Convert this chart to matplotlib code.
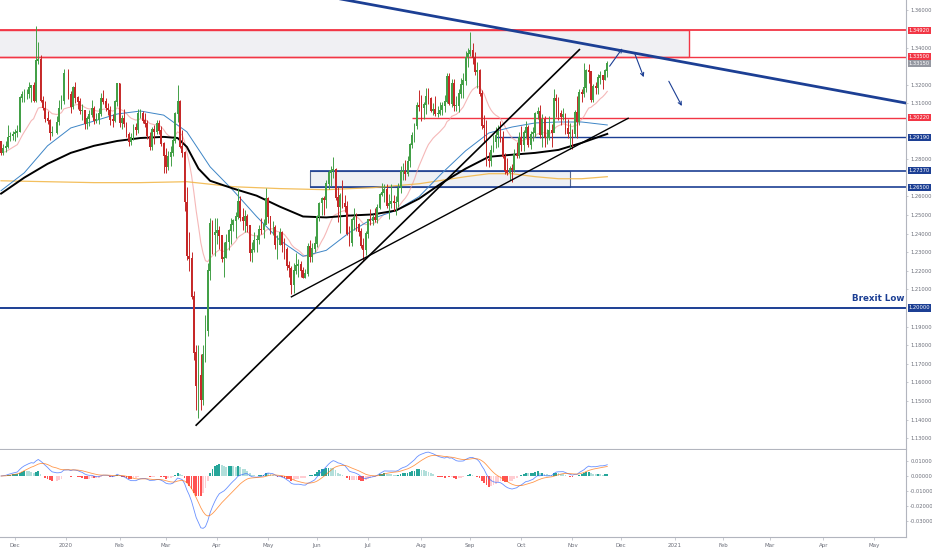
import numpy as np
import pandas as pd
import matplotlib
matplotlib.use('Agg')
import matplotlib.pyplot as plt
import matplotlib.transforms as mtransforms
from matplotlib.patches import Rectangle

START = '2019-11-22'      # first daily bar on screen
FIRST_OPEN = 1.2895

# GBP/USD daily closes, 22 Nov 2019 .. 23 Nov 2020 (no bar on 25 Dec / 1 Jan)
closes = [
    1.2835, 1.2860, 1.2870, 1.2920, 1.2925, 1.2935,                                   # Nov
    1.2945, 1.2950, 1.3130, 1.3150, 1.3150, 1.3150, 1.3185, 1.3195, 1.3115, 1.3330,
    1.3335, 1.3115, 1.3075, 1.3020, 1.3010, 1.2945, 1.2945, 1.3000, 1.3075, 1.3115, 1.3260,  # Dec
    1.3150, 1.3080, 1.3185, 1.3130, 1.3110, 1.3060, 1.3065, 1.2990, 1.3020, 1.3040, 1.3075,
    1.3005, 1.3015, 1.3045, 1.3125, 1.3110, 1.3075, 1.3065, 1.3015, 1.3005, 1.3110, 1.3205,  # Jan
    1.2995, 1.3020, 1.2990, 1.2935, 1.2895, 1.2915, 1.2970, 1.2960, 1.3045, 1.3045,
    1.3010, 1.2990, 1.2925, 1.2870, 1.2960, 1.2950, 1.2990, 1.2955, 1.2885, 1.2820,  # Feb
    1.2760, 1.2815, 1.2835, 1.2900, 1.3045, 1.3110, 1.2870, 1.2835, 1.2570, 1.2280, 1.2265,
    1.2060, 1.1760, 1.1580, 1.1640, 1.1510, 1.1750, 1.1880, 1.2200, 1.2455, 1.2395, 1.2405,  # Mar
    1.2415, 1.2390, 1.2265, 1.2270, 1.2355, 1.2415, 1.2450, 1.2470, 1.2490, 1.2575, 1.2485,
    1.2470, 1.2495, 1.2445, 1.2300, 1.2315, 1.2365, 1.2370, 1.2425, 1.2420, 1.2450, 1.2590,  # Apr
    1.2490, 1.2435, 1.2435, 1.2340, 1.2340, 1.2405, 1.2340, 1.2315, 1.2230, 1.2215, 1.2125,
    1.2200, 1.2230, 1.2235, 1.2200, 1.2165, 1.2185, 1.2330, 1.2275, 1.2320, 1.2345,  # May
    1.2490, 1.2565, 1.2590, 1.2580, 1.2670, 1.2730, 1.2740, 1.2745, 1.2595, 1.2545, 1.2605,
    1.2565, 1.2545, 1.2400, 1.2350, 1.2475, 1.2485, 1.2450, 1.2410, 1.2335, 1.2315, 1.2400,  # Jun
    1.2475, 1.2470, 1.2485, 1.2475, 1.2540, 1.2610, 1.2620, 1.2640, 1.2550, 1.2560, 1.2575, 1.2565,
    1.2570, 1.2645, 1.2735, 1.2735, 1.2725, 1.2790, 1.2880, 1.2930, 1.2980, 1.3090, 1.3085,  # Jul
    1.3075, 1.3095, 1.3140, 1.3125, 1.3060, 1.3070, 1.3045, 1.3045, 1.3065, 1.3090, 1.3110,
    1.3245, 1.3100, 1.3210, 1.3090, 1.3090, 1.3155, 1.3200, 1.3225, 1.3350, 1.3370,  # Aug
    1.3385, 1.3345, 1.3270, 1.3280, 1.3155, 1.2980, 1.2970, 1.2800, 1.2795, 1.2850, 1.2895,
    1.2930, 1.2960, 1.2915, 1.2815, 1.2740, 1.2730, 1.2750, 1.2745, 1.2825, 1.2820, 1.2920,  # Sep
    1.2880, 1.2945, 1.2970, 1.2880, 1.2935, 1.2945, 1.3045, 1.3055, 1.2930, 1.3015, 1.2915,
    1.2915, 1.2955, 1.2945, 1.3125, 1.3115, 1.3045, 1.3030, 1.3040, 1.2965, 1.2935, 1.2945,  # Oct
    1.2935, 1.3050, 1.3000, 1.3160, 1.3150, 1.3185, 1.3275, 1.3270, 1.3120, 1.3190,
    1.3185, 1.3240, 1.3250, 1.3230, 1.3275, 1.3315,  # Nov
]
highs = [
    1.2900, 1.2880, 1.2900, 1.2985, 1.2945, 1.2950,
    1.2960, 1.2985, 1.3140, 1.3165, 1.3180, 1.3180, 1.3215, 1.3200, 1.3215, 1.3515,
    1.3430, 1.3360, 1.3140, 1.3115, 1.3060, 1.3015, 1.2980, 1.3030, 1.3120, 1.3145, 1.3285,
    1.3285, 1.3165, 1.3195, 1.3215, 1.3140, 1.3130, 1.3095, 1.3065, 1.3030, 1.3065, 1.3120,
    1.3085, 1.3050, 1.3075, 1.3155, 1.3170, 1.3130, 1.3100, 1.3085, 1.3045, 1.3120, 1.3210,
    1.3210, 1.3040, 1.3070, 1.3000, 1.2945, 1.2940, 1.2990, 1.2995, 1.3070, 1.3070,
    1.3060, 1.3050, 1.3010, 1.2945, 1.2975, 1.2985, 1.3010, 1.3010, 1.2980, 1.2895,
    1.2860, 1.2845, 1.2870, 1.2915, 1.3055, 1.3200, 1.3120, 1.2955, 1.2845, 1.2650, 1.2410,
    1.2300, 1.2090, 1.1800, 1.1800, 1.1750, 1.1800, 1.1960, 1.2240, 1.2485, 1.2475, 1.2485,
    1.2485, 1.2440, 1.2395, 1.2355, 1.2400, 1.2425, 1.2485, 1.2480, 1.2515, 1.2645, 1.2600,
    1.2540, 1.2525, 1.2505, 1.2445, 1.2355, 1.2410, 1.2395, 1.2445, 1.2485, 1.2480, 1.2645,
    1.2595, 1.2495, 1.2470, 1.2445, 1.2390, 1.2430, 1.2415, 1.2375, 1.2330, 1.2250, 1.2225,
    1.2240, 1.2295, 1.2265, 1.2250, 1.2220, 1.2210, 1.2350, 1.2365, 1.2350, 1.2385,
    1.2500, 1.2570, 1.2595, 1.2600, 1.2690, 1.2740, 1.2765, 1.2810, 1.2750, 1.2650, 1.2620,
    1.2690, 1.2610, 1.2575, 1.2440, 1.2485, 1.2540, 1.2510, 1.2455, 1.2430, 1.2375, 1.2415,
    1.2480, 1.2530, 1.2505, 1.2535, 1.2560, 1.2620, 1.2670, 1.2665, 1.2665, 1.2615, 1.2665, 1.2605,
    1.2600, 1.2670, 1.2765, 1.2780, 1.2795, 1.2815, 1.2885, 1.2945, 1.2995, 1.3105, 1.3170,
    1.3145, 1.3110, 1.3185, 1.3185, 1.3135, 1.3100, 1.3140, 1.3085, 1.3110, 1.3110, 1.3145,
    1.3265, 1.3265, 1.3230, 1.3230, 1.3140, 1.3175, 1.3235, 1.3265, 1.3380, 1.3400,
    1.3482, 1.3425, 1.3375, 1.3320, 1.3285, 1.3170, 1.3035, 1.3010, 1.2840, 1.2875, 1.2930,
    1.2975, 1.2985, 1.3005, 1.2950, 1.2835, 1.2805, 1.2765, 1.2775, 1.2855, 1.2890, 1.2945,
    1.2980, 1.2955, 1.3005, 1.2985, 1.2950, 1.2975, 1.3055, 1.3080, 1.3090, 1.3045, 1.3030,
    1.2960, 1.3030, 1.2990, 1.3175, 1.3150, 1.3135, 1.3065, 1.3075, 1.3050, 1.3015, 1.2995,
    1.2965, 1.3065, 1.3140, 1.3175, 1.3180, 1.3315, 1.3285, 1.3310, 1.3275, 1.3205,
    1.3215, 1.3260, 1.3275, 1.3255, 1.3285, 1.3330,
]
lows = [
    1.2825, 1.2825, 1.2840, 1.2860, 1.2900, 1.2905,
    1.2900, 1.2920, 1.2945, 1.3110, 1.3110, 1.3125, 1.3130, 1.3110, 1.3105, 1.3110,
    1.3310, 1.3110, 1.3065, 1.3000, 1.2990, 1.2905, 1.2925, 1.2935, 1.2985, 1.3070, 1.3095,
    1.3125, 1.3050, 1.3070, 1.3100, 1.3070, 1.3045, 1.3010, 1.2960, 1.2960, 1.2980, 1.3025,
    1.2990, 1.2995, 1.2990, 1.3030, 1.3095, 1.3060, 1.3035, 1.2985, 1.2975, 1.3000, 1.3085,
    1.2975, 1.2960, 1.2975, 1.2920, 1.2870, 1.2875, 1.2905, 1.2930, 1.2940, 1.3020,
    1.2995, 1.2975, 1.2910, 1.2850, 1.2850, 1.2880, 1.2935, 1.2935, 1.2870, 1.2725,
    1.2725, 1.2740, 1.2765, 1.2815, 1.2885, 1.3000, 1.2860, 1.2810, 1.2520, 1.2260, 1.2200,
    1.2050, 1.1720, 1.1450, 1.1409, 1.1450, 1.1480, 1.1710, 1.1850, 1.2150, 1.2290, 1.2280,
    1.2345, 1.2315, 1.2245, 1.2165, 1.2270, 1.2310, 1.2345, 1.2415, 1.2375, 1.2480, 1.2470,
    1.2420, 1.2410, 1.2410, 1.2250, 1.2245, 1.2300, 1.2300, 1.2345, 1.2400, 1.2375, 1.2450,
    1.2455, 1.2400, 1.2395, 1.2315, 1.2265, 1.2340, 1.2300, 1.2265, 1.2205, 1.2165, 1.2075,
    1.2080, 1.2185, 1.2165, 1.2165, 1.2160, 1.2160, 1.2170, 1.2245, 1.2245, 1.2300,
    1.2330, 1.2470, 1.2500, 1.2500, 1.2540, 1.2640, 1.2655, 1.2700, 1.2580, 1.2460, 1.2405,
    1.2535, 1.2515, 1.2390, 1.2335, 1.2335, 1.2420, 1.2415, 1.2385, 1.2320, 1.2250, 1.2285,
    1.2375, 1.2445, 1.2445, 1.2465, 1.2455, 1.2530, 1.2600, 1.2570, 1.2540, 1.2480, 1.2535, 1.2520,
    1.2500, 1.2545, 1.2620, 1.2690, 1.2690, 1.2710, 1.2760, 1.2860, 1.2890, 1.2965, 1.3060,
    1.3005, 1.3015, 1.3045, 1.3095, 1.3055, 1.3035, 1.3030, 1.3025, 1.3035, 1.3040, 1.3055,
    1.3100, 1.3090, 1.3080, 1.3060, 1.3060, 1.3055, 1.3130, 1.3130, 1.3200, 1.3295,
    1.3355, 1.3310, 1.3255, 1.3185, 1.3140, 1.2960, 1.2885, 1.2765, 1.2760, 1.2765, 1.2840,
    1.2860, 1.2865, 1.2895, 1.2805, 1.2720, 1.2715, 1.2690, 1.2675, 1.2730, 1.2805, 1.2805,
    1.2845, 1.2845, 1.2915, 1.2865, 1.2855, 1.2900, 1.2920, 1.3015, 1.2915, 1.2865, 1.2865,
    1.2880, 1.2905, 1.2865, 1.2945, 1.3025, 1.3010, 1.2985, 1.3010, 1.2935, 1.2915, 1.2855,
    1.2855, 1.2920, 1.2915, 1.2985, 1.3110, 1.3135, 1.3160, 1.3210, 1.3105, 1.3105,
    1.3150, 1.3150, 1.3205, 1.3180, 1.3225, 1.3240,
]

# moving averages, bars counted from 2 Dec 2019
ma50_k = [-6, 4, 14, 24, 34, 44, 54, 64, 74, 84, 94, 104, 114, 124, 134, 144, 154, 164,
          174, 184, 194, 204, 214, 224, 234, 244, 255]
ma50 = [1.2631, 1.2727, 1.2872, 1.2968, 1.3005, 1.3043, 1.3059, 1.3037, 1.2947, 1.2759,
        1.2631, 1.2492, 1.2364, 1.2278, 1.2310, 1.2406, 1.2481, 1.2524, 1.2599, 1.2727,
        1.2845, 1.2941, 1.2973, 1.2995, 1.3000, 1.3000, 1.2984]
ma100_k = [-6, 4, 14, 24, 34, 44, 54, 64, 70, 74, 79, 84, 94, 104, 114, 124, 134, 144,
           154, 164, 174, 184, 194, 204, 214, 224, 234, 244, 255]
ma100 = [1.2615, 1.2701, 1.2775, 1.2834, 1.2872, 1.2898, 1.2914, 1.2920, 1.2914, 1.2866,
         1.2749, 1.2684, 1.2642, 1.2604, 1.2545, 1.2492, 1.2487, 1.2497, 1.2503, 1.2524,
         1.2588, 1.2674, 1.2749, 1.2813, 1.2824, 1.2834, 1.2850, 1.2888, 1.2936]
ma200_k = [-6, 14, 34, 54, 74, 94, 114, 134, 154, 174, 194, 204, 214, 224, 234, 244, 255]
ma200 = [1.2684, 1.2679, 1.2674, 1.2674, 1.2679, 1.2652, 1.2642, 1.2636, 1.2647, 1.2668,
         1.2706, 1.2722, 1.2722, 1.2706, 1.2695, 1.2695, 1.2706]

# drawn levels and zones
zone_top, zone_bot, zone_end = 1.3492, 1.3350, '2021-01-11'
res_level, res_start = 1.3022, '2020-07-28'
sup_level, sup_start = 1.2919, '2020-09-16'
box_top, box_bot, box_start, box_end = 1.2737, 1.2650, '2020-05-27', '2020-10-30'
brexit_low = 1.2000
down_trend = [('2020-06-23', 1.3648), ('2021-05-21', 1.3101)]
up_trend_1 = [('2020-03-19', 1.1370), ('2020-11-05', 1.3389)]
up_trend_2 = [('2020-05-15', 1.2060), ('2020-12-04', 1.3020)]
# projected path, bars after the last candle
arrows = [((1.0, 1.3300), (6.5, 1.3396)), ((11.8, 1.3369), (15.7, 1.3241)),
          ((26.5, 1.3219), (32.1, 1.3086))]

months = [('2019-12-02', 'Dec'), ('2020-01-01', '2020'), ('2020-02-03', 'Feb'), ('2020-03-02', 'Mar'),
          ('2020-04-01', 'Apr'), ('2020-05-01', 'May'), ('2020-06-01', 'Jun'), ('2020-07-01', 'Jul'),
          ('2020-08-03', 'Aug'), ('2020-09-01', 'Sep'), ('2020-10-01', 'Oct'), ('2020-11-02', 'Nov'),
          ('2020-12-01', 'Dec'), ('2021-01-01', '2021'), ('2021-02-01', 'Feb'), ('2021-03-01', 'Mar'),
          ('2021-04-01', 'Apr'), ('2021-05-03', 'May')]

GREEN = '#43a047'
RED = '#c62828'
NAVY = '#1c3f94'
LRED = '#f23645'
FS = 3.7


def bx(d):
    return np.busday_count(np.datetime64(START), np.datetime64(d, 'D'))


dates = pd.bdate_range(START, '2020-11-23')
dates = dates[~dates.strftime('%m-%d').isin(['12-25', '01-01'])]
x = np.array([bx(d) for d in dates.strftime('%Y-%m-%d')])
c = np.array(closes)
o = np.array([FIRST_OPEN] + closes[:-1])
h = np.maximum(np.array(highs), np.maximum(o, c))
l = np.minimum(np.array(lows), np.minimum(o, c))
k0 = bx('2019-12-02')

fig = plt.figure(figsize=(9.32, 5.5), dpi=100)
W, H = 932, 550
ax = fig.add_axes([0, 1 - 449 / H, 906 / W, 449 / H])
axm = fig.add_axes([0, 1 - 537 / H, 906 / W, 87 / H], sharex=ax)

# zone between the two red levels
ax.add_patch(Rectangle((-30, zone_bot), bx(zone_end) + 30, zone_top - zone_bot,
                       facecolor='#f0f0f3', edgecolor=LRED, lw=1.0, zorder=1))
ax.axhline(zone_top, color=LRED, lw=1.3, zorder=2)
ax.axhline(zone_bot, color=LRED, lw=1.0, zorder=2)
ax.hlines(res_level, bx(res_start), 500, color=LRED, lw=1.0, zorder=2)
ax.hlines(sup_level, bx(sup_start), 500, color=NAVY, lw=1.0, zorder=2)
ax.add_patch(Rectangle((bx(box_start), box_bot), bx(box_end) - bx(box_start), box_top - box_bot,
                       facecolor='#eef0f4', edgecolor='#5a6a90', lw=0.8, zorder=1))
ax.hlines([box_top, box_bot], bx(box_start), 500, color=NAVY, lw=1.2, zorder=2)
ax.axhline(brexit_low, color=NAVY, lw=1.4, zorder=2)

# moving averages
ema20 = pd.Series(c).ewm(span=20, adjust=False).mean()
ax.plot(x, ema20, color='#f19a9a', lw=0.8, alpha=0.7, zorder=3)
ax.plot(np.array(ma200_k) + k0, ma200, color='#f2b84b', lw=0.9, alpha=0.9, zorder=3)
ax.plot(np.array(ma50_k) + k0, ma50, color='#3d85c6', lw=0.7, zorder=3)
ax.plot(np.array(ma100_k) + k0, ma100, color='black', lw=1.4, zorder=3)

# candles
up = c >= o
cols = np.where(up, GREEN, RED)
ax.vlines(x, l, h, colors=cols, lw=0.7, zorder=4)
ax.bar(x, np.abs(c - o) + 0.0004, bottom=np.minimum(o, c) - 0.0002, width=0.8,
       color=cols, lw=0, zorder=5)

# trend lines
for pts, col, lw in [(down_trend, NAVY, 2.0), (up_trend_1, 'black', 1.2), (up_trend_2, 'black', 1.0)]:
    (x1, y1), (x2, y2) = (bx(pts[0][0]), pts[0][1]), (bx(pts[1][0]), pts[1][1])
    if col == NAVY:
        # runs off both edges of the pane
        sl = (y2 - y1) / (x2 - x1)
        x1, y1, x2, y2 = x1 - 20, y1 - 20 * sl, x2 + 20, y2 + 20 * sl
    ax.plot([x1, x2], [y1, y2], color=col, lw=lw, zorder=6)

for (a0, p0), (a1, p1) in arrows:
    ax.annotate('', xy=(x[-1] + a1, p1), xytext=(x[-1] + a0, p0),
                arrowprops=dict(arrowstyle='->', color=NAVY, lw=0.8, shrinkA=0, shrinkB=0,
                                mutation_scale=6), zorder=7)

trans = mtransforms.blended_transform_factory(ax.transAxes, ax.transData)
ax.text(0.998, brexit_low + 0.0025, 'Brexit Low', transform=trans, color=NAVY, fontsize=6.3,
        fontweight='bold', ha='right', va='bottom')

# price scale
px_per = 1860.0
ax.set_ylim(1.2 - 141 / px_per, 1.2 + 308 / px_per)
ax.set_xlim(k0 - 15 / 2.32, k0 + 890 / 2.32)
tag_levels = [(zone_top, LRED), (zone_bot, LRED), (res_level, LRED), (sup_level, NAVY),
              (box_top, NAVY), (box_bot, NAVY), (brexit_low, NAVY), (c[-1], '#9598a1')]
ticks = [t for t in np.arange(1.13, 1.365, 0.01)
         if all(abs(t - v) * px_per > 9 for v, _ in tag_levels)]
ax.set_yticks(ticks)
ax.set_yticklabels(['%.5f' % t for t in ticks])
for v, col in tag_levels:
    ax.text(1.003, v, '%.5f' % v, transform=trans, fontsize=FS, color='white', ha='left',
            va='center', clip_on=False, zorder=10,
            bbox=dict(boxstyle='square,pad=0.2', fc=col, ec='none'))

# MACD 12 26 9
ema12 = pd.Series(c).ewm(span=12, adjust=False).mean()
ema26 = pd.Series(c).ewm(span=26, adjust=False).mean()
macd = ema12 - ema26
signal = macd.ewm(span=9, adjust=False).mean()
hist = (macd - signal).values
prev = np.r_[0, hist[:-1]]
hcol = np.where(hist >= 0, np.where(hist > prev, '#26a69a', '#b2dfdb'),
                np.where(hist < prev, '#ff5252', '#ffcdd2'))
axm.bar(x, hist, width=0.8, color=hcol, lw=0)
axm.plot(x, macd, color='#2962ff', lw=0.6, alpha=0.7)
axm.plot(x, signal, color='#ff6d00', lw=0.6, alpha=0.7)
m_per = 1500.0
axm.set_ylim(-(537 - 476) / m_per, (476 - 450) / m_per)
mt = [0.01, 0.0, -0.01, -0.02, -0.03]
axm.set_yticks(mt)
axm.set_yticklabels(['%.5f' % t for t in mt])

axm.set_xticks([bx(d) for d, _ in months])
axm.set_xticklabels([s for _, s in months])

for a in (ax, axm):
    a.set_facecolor('white')
    a.yaxis.tick_right()
    for s in ('top', 'left'):
        a.spines[s].set_visible(False)
    for s in ('right', 'bottom'):
        a.spines[s].set_color('#b2b5be')
        a.spines[s].set_linewidth(0.8)
    a.tick_params(axis='y', length=1.5, width=0.5, colors='#b2b5be', labelcolor='#6a6d78',
                  labelsize=FS, pad=1.5)
    a.tick_params(axis='x', length=2, width=0.5, colors='#b2b5be', labelcolor='#6a6d78',
                  labelsize=FS + 0.3, pad=2)
ax.tick_params(axis='x', labelbottom=False, length=0)

fig.savefig('out.png', dpi=100, facecolor='white')
